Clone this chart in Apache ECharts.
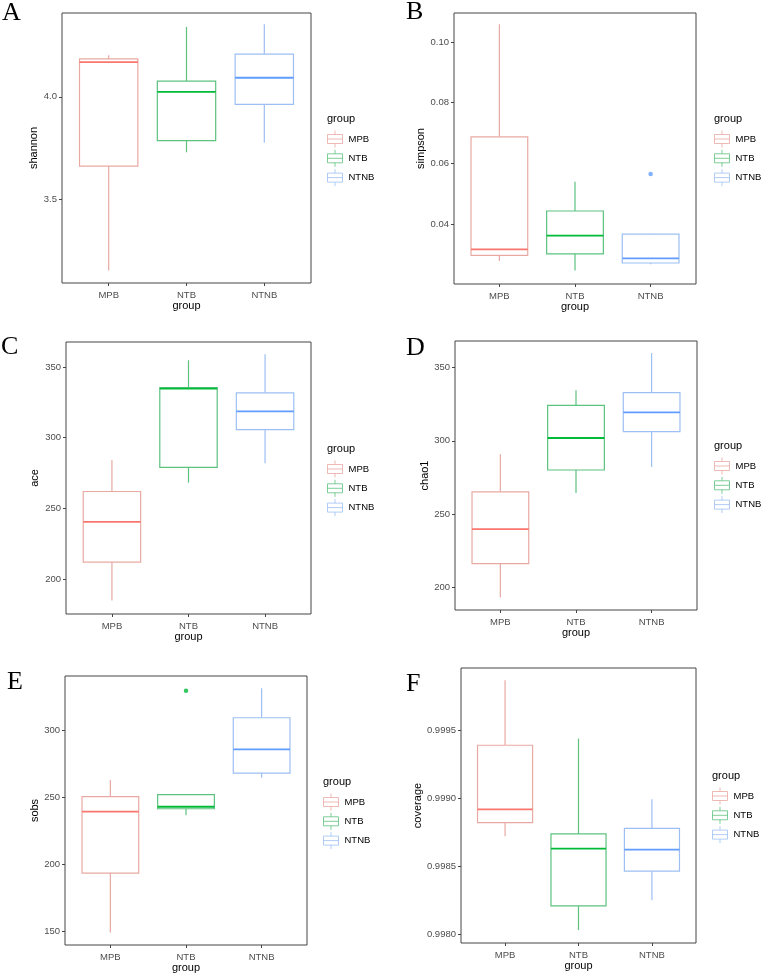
<!DOCTYPE html>
<html>
<head>
<meta charset="utf-8">
<script src="https://cdn.jsdelivr.net/npm/echarts@6/dist/echarts.min.js"></script>
<style>html,body{margin:0;padding:0;background:#fff}#c{width:764px;height:976px}</style>
</head>
<body>
<div id="c"></div>
<script>
// ---------- DATA ----------
const groups = ['MPB', 'NTB', 'NTNB'];
const xTicks = [1, 2, 3];

// each row: [min, Q1, median, Q3, max] for MPB, NTB, NTNB
const shannonBoxes = [[3.152, 3.662, 4.169, 4.185, 4.203], [3.729, 3.786, 4.024, 4.076, 4.341], [3.776, 3.963, 4.093, 4.208, 4.354]];
const shannonOutliers = [[], [], []];
const shannonRange = [3.091, 4.409];
const shannonTicks = [3.5, 4.0];
const shannonTickLabels = ['3.5', '4.0'];

const simpsonBoxes = [[0.0280, 0.0298, 0.0318, 0.0688, 0.1058], [0.0248, 0.0303, 0.0363, 0.0444, 0.0540], [0.0269, 0.0273, 0.0288, 0.0368, 0.0369]];
const simpsonOutliers = [[], [], [0.0566]];
const simpsonRange = [0.0204, 0.1095];
const simpsonTicks = [0.04, 0.06, 0.08, 0.10];
const simpsonTickLabels = ['0.04', '0.06', '0.08', '0.10'];

const aceBoxes = [[184.8, 212.0, 240.5, 261.9, 284.2], [268.2, 279.0, 334.6, 335.3, 354.7], [281.8, 305.6, 318.5, 331.7, 358.9]];
const aceOutliers = [[], [], []];
const aceRange = [175.3, 367.6];
const aceTicks = [200, 250, 300, 350];
const aceTickLabels = ['200', '250', '300', '350'];

const chao1Boxes = [[192.9, 216.0, 239.6, 265.0, 290.7], [264.3, 280.0, 301.9, 324.2, 334.5], [282.0, 306.2, 319.4, 332.9, 360.0]];
const chao1Outliers = [[], [], []];
const chao1Range = [184.3, 368.2];
const chao1Ticks = [200, 250, 300, 350];
const chao1TickLabels = ['200', '250', '300', '350'];

const sobsBoxes = [[149.5, 193.7, 239.4, 250.6, 263.0], [236.7, 241.6, 243.1, 252.1, 252.1], [264.7, 268.2, 285.8, 309.4, 331.3]];
const sobsOutliers = [[], [329.6], []];
const sobsRange = [140.1, 340.5];
const sobsTicks = [150, 200, 250, 300];
const sobsTickLabels = ['150', '200', '250', '300'];

const coverageBoxes = [[0.998722, 0.998822, 0.998919, 0.999390, 0.999866], [0.998034, 0.998212, 0.998632, 0.998739, 0.999439], [0.998252, 0.998466, 0.998624, 0.998780, 0.998993]];
const coverageOutliers = [[], [], []];
const coverageRange = [0.9979389, 0.9999568];
const coverageTicks = [0.9980, 0.9985, 0.9990, 0.9995];
const coverageTickLabels = ['0.9980', '0.9985', '0.9990', '0.9995'];

// ---------- STYLE / LAYOUT ----------
const groupColors = ['#F8766D', '#00BA38', '#619CFF'];
const boxColors = ['#E9A9A3', '#5CC27E', '#9DBFF3'];
const SANS = 'Liberation Sans, Arial, sans-serif';
const SERIF = 'Liberation Serif, Times New Roman, serif';
const boxHalf = 0.375;
const keyPath = 'path://M7.5,0L7.5,4M0,4L15,4L15,13L0,13ZM0,8.5L15,8.5M7.5,13L7.5,17';

const panels = [
  { name: 'shannon', letter: 'A', boxes: shannonBoxes, outliers: shannonOutliers, range: shannonRange, ticks: shannonTicks, labels: shannonTickLabels,
    grid: { left: 62, top: 13, width: 249, height: 270 }, yGap: 21, letterPos: [2, 0], legend: [327, 120] },
  { name: 'simpson', letter: 'B', boxes: simpsonBoxes, outliers: simpsonOutliers, range: simpsonRange, ticks: simpsonTicks, labels: simpsonTickLabels,
    grid: { left: 454, top: 13, width: 242, height: 271 }, yGap: 26, letterPos: [406, -1], legend: [714, 120] },
  { name: 'ace', letter: 'C', boxes: aceBoxes, outliers: aceOutliers, range: aceRange, ticks: aceTicks, labels: aceTickLabels,
    grid: { left: 66, top: 342, width: 245, height: 272 }, yGap: 26, letterPos: [1, 334], legend: [327, 450] },
  { name: 'chao1', letter: 'D', boxes: chao1Boxes, outliers: chao1Outliers, range: chao1Range, ticks: chao1Ticks, labels: chao1TickLabels,
    grid: { left: 455, top: 341, width: 242, height: 269 }, yGap: 24, letterPos: [406, 335], legend: [714, 447] },
  { name: 'sobs', letter: 'E', boxes: sobsBoxes, outliers: sobsOutliers, range: sobsRange, ticks: sobsTicks, labels: sobsTickLabels,
    grid: { left: 65, top: 676, width: 242, height: 269 }, yGap: 24, letterPos: [7, 669], legend: [323, 783] },
  { name: 'coverage', letter: 'F', boxes: coverageBoxes, outliers: coverageOutliers, range: coverageRange, ticks: coverageTicks, labels: coverageTickLabels,
    grid: { left: 461, top: 668, width: 235, height: 275 }, yGap: 37, letterPos: [406, 671], legend: [712, 777] }
];

function labelFor(values, labels) {
  return function (v) {
    let best = 0, d = Infinity;
    values.forEach((t, i) => { const dd = Math.abs(t - v); if (dd < d) { d = dd; best = i; } });
    return labels[best];
  };
}

function renderBox(params, api) {
  const gi = params.dataIndex;
  const x = api.value(0);
  const xl = api.coord([x - boxHalf, api.value(3)])[0];
  const xr = api.coord([x + boxHalf, api.value(3)])[0];
  const pMin = api.coord([x, api.value(1)]);
  const yQ1 = api.coord([x, api.value(2)])[1];
  const yMed = api.coord([x, api.value(3)])[1];
  const yQ3 = api.coord([x, api.value(4)])[1];
  const yMax = api.coord([x, api.value(5)])[1];
  const cx = pMin[0];
  const lc = boxColors[gi], c = groupColors[gi];
  return {
    type: 'group',
    children: [
      { type: 'line', shape: { x1: cx, y1: yMax, x2: cx, y2: yQ3 }, style: { stroke: lc, lineWidth: 1.2 } },
      { type: 'line', shape: { x1: cx, y1: yQ1, x2: cx, y2: pMin[1] }, style: { stroke: lc, lineWidth: 1.2 } },
      { type: 'rect', shape: { x: xl, y: yQ3, width: xr - xl, height: yQ1 - yQ3 }, style: { fill: '#fff', stroke: lc, lineWidth: 1.2 } },
      { type: 'line', shape: { x1: xl, y1: yMed, x2: xr, y2: yMed }, style: { stroke: c, lineWidth: 1.8 } }
    ]
  };
}

const option = { animation: false, backgroundColor: '#fff', grid: [], xAxis: [], yAxis: [], series: [], title: [], legend: [] };

panels.forEach((p, i) => {
  option.grid.push(Object.assign({ show: true, borderColor: '#444', borderWidth: 1, backgroundColor: '#fff', containLabel: false }, p.grid));
  option.xAxis.push({
    type: 'value', gridIndex: i, min: 0.4, max: 3.6,
    name: 'group', nameLocation: 'middle', nameGap: 17,
    nameTextStyle: { fontFamily: SANS, fontSize: 11, color: '#000' },
    axisLine: { show: false }, splitLine: { show: false },
    axisTick: { show: true, length: 3, customValues: xTicks, lineStyle: { color: '#444', width: 1 } },
    axisLabel: { customValues: xTicks, margin: 7, fontFamily: SANS, fontSize: 9.5, color: '#4D4D4D', formatter: v => groups[Math.round(v) - 1] }
  });
  option.yAxis.push({
    type: 'value', gridIndex: i, min: p.range[0], max: p.range[1],
    name: p.name, nameLocation: 'middle', nameGap: p.yGap,
    nameTextStyle: { fontFamily: SANS, fontSize: 11, color: '#000' },
    axisLine: { show: false }, splitLine: { show: false },
    axisTick: { show: true, length: 3, customValues: p.ticks, lineStyle: { color: '#444', width: 1 } },
    axisLabel: { customValues: p.ticks, margin: 5, fontFamily: SANS, fontSize: 9.5, color: '#4D4D4D', formatter: labelFor(p.ticks, p.labels) }
  });
  option.series.push({
    type: 'custom', name: p.name + ' boxes', xAxisIndex: i, yAxisIndex: i,
    renderItem: renderBox, encode: { x: 0, y: [1, 2, 3, 4, 5] },
    data: p.boxes.map((b, gi) => [xTicks[gi]].concat(b)), z: 2
  });
  groups.forEach((g, gi) => {
    option.series.push({
      type: 'scatter', name: g, xAxisIndex: i, yAxisIndex: i, symbol: 'circle', symbolSize: 4.5,
      itemStyle: { color: groupColors[gi] }, z: 3,
      data: p.outliers[gi].map(v => [xTicks[gi], v])
    });
  });
  option.title.push({ text: p.letter, left: p.letterPos[0], top: p.letterPos[1], padding: 0,
    textStyle: { fontFamily: SERIF, fontSize: 26, fontWeight: 'normal', color: '#000' } });
  option.title.push({ text: 'group', left: p.legend[0], top: p.legend[1] - 7, padding: 0,
    textStyle: { fontFamily: SANS, fontSize: 11, fontWeight: 'normal', color: '#000' } });
  option.legend.push({
    orient: 'vertical', left: p.legend[0], top: p.legend[1] + 18.5 - 8.5, padding: 0,
    itemWidth: 15, itemHeight: 17, itemGap: 1.3, selectedMode: false, icon: keyPath,
    textStyle: { fontFamily: SANS, fontSize: 9.5, color: '#000', padding: [0, 0, 0, 1] },
    data: groups.map((g, gi) => ({ name: g, icon: keyPath, itemStyle: { color: '#fff', borderColor: boxColors[gi], borderWidth: 1 } }))
  });
});

const chart = echarts.init(document.getElementById('c'), null, { renderer: 'canvas', width: 764, height: 976 });
chart.setOption(option);
</script>
</body>
</html>
